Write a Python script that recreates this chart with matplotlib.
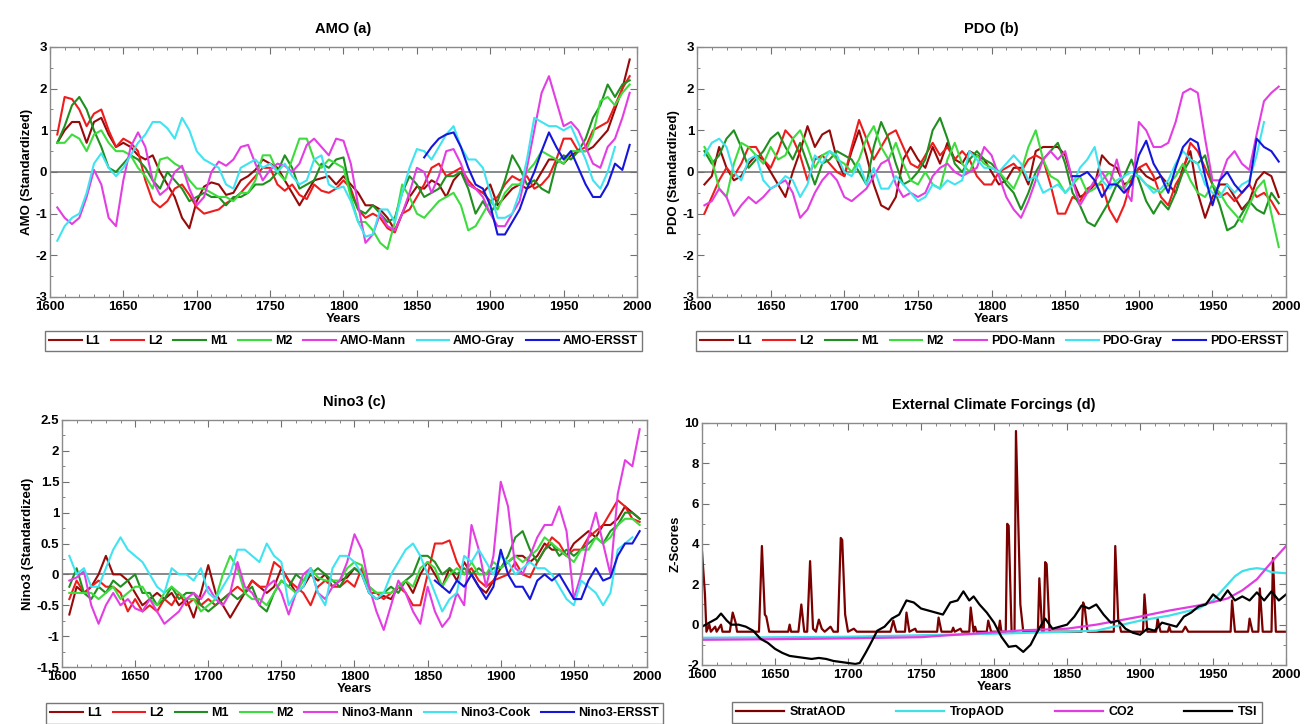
import matplotlib
matplotlib.use("Agg")
import matplotlib.pyplot as plt
from matplotlib.ticker import MultipleLocator, FormatStrFormatter
import numpy as np

plt.rcParams['font.family'] = ['Liberation Sans', 'DejaVu Sans']
plt.rcParams['font.weight'] = 'bold'
plt.rcParams['axes.unicode_minus'] = False

# 5-year grid used by the reconstructions
years = list(range(1605, 2000, 5))
years_gray = list(range(1605, 1990, 5))
years_cook = list(range(1605, 1995, 5))
years_ersst = list(range(1855, 2000, 5))

# ---- AMO (a)
amo_l1 = [0.7, 1.0, 1.2, 1.2, 0.7, 1.2, 1.3, 0.9, 0.6, 0.7,
          0.6, 0.4, 0.3, 0.4, 0.0, -0.3, -0.6, -1.1, -1.35, -0.7,
          -0.35, -0.25, -0.3, -0.55, -0.5, -0.2, -0.1, 0.05, 0.3, 0.2,
          0.1, -0.2, -0.5, -0.8, -0.5, -0.2, -0.15, -0.1, -0.3, -0.1,
          -0.3, -0.5, -0.8, -0.8, -0.9, -1.1, -1.4, -1.0, -0.6, -0.35,
          -0.4, -0.2, -0.3, -0.6, -0.2, 0.0, -0.3, -0.4, -0.5, -0.3,
          -0.8, -0.6, -0.4, -0.3, -0.4, -0.3, 0.0, 0.3, 0.3, 0.2,
          0.4, 0.5, 0.5, 0.6, 0.8, 1.0, 1.5, 2.0, 2.7]
amo_l2 = [0.9, 1.8, 1.75, 1.5, 1.1, 1.4, 1.5, 1.0, 0.6, 0.8,
          0.7, 0.5, -0.2, -0.7, -0.85, -0.7, -0.4, -0.3, -0.55, -0.85,
          -1.0, -0.95, -0.9, -0.75, -0.65, -0.5, -0.3, -0.1, 0.1, 0.1,
          -0.3, -0.45, -0.3, -0.55, -0.65, -0.3, -0.45, -0.5, -0.4, -0.2,
          -0.4, -0.9, -1.1, -1.0, -1.1, -1.35, -1.45, -1.0, -0.9, -0.6,
          -0.3, 0.1, 0.2, -0.1, 0.0, 0.1, -0.2, -0.4, -0.5, -0.7,
          -0.6, -0.3, -0.1, -0.2, -0.1, -0.4, -0.3, -0.1, 0.3, 0.8,
          0.8, 0.5, 0.6, 1.0, 1.1, 1.2, 1.6, 2.0, 2.3]
amo_m1 = [0.7, 1.1, 1.6, 1.8, 1.5, 1.0, 0.6, 0.1, 0.0, 0.2,
          0.4, 0.3, 0.1, -0.2, -0.4, 0.0, -0.2, -0.4, -0.7, -0.6,
          -0.5, -0.6, -0.6, -0.8, -0.6, -0.6, -0.5, -0.3, -0.3, -0.2,
          0.0, 0.4, 0.1, -0.4, -0.3, -0.2, 0.2, 0.1, 0.3, 0.35,
          -0.5, -0.9, -1.0, -0.8, -1.0, -1.2, -1.1, -0.5, -0.1, -0.3,
          -0.6, -0.5, -0.4, -0.1, -0.1, 0.0, -0.4, -1.0, -0.7, -1.0,
          -0.7, -0.2, 0.4, 0.1, -0.3, -0.2, -0.4, -0.5, 0.2, 0.4,
          0.3, 0.5, 0.8, 1.3, 1.6, 2.1, 1.8, 2.1, 2.2]
amo_m2 = [0.7, 0.7, 0.9, 0.8, 0.5, 0.9, 1.0, 0.7, 0.5, 0.5,
          0.4, 0.1, -0.1, -0.4, 0.3, 0.35, 0.2, 0.1, -0.2, -0.4,
          -0.4, -0.5, -0.6, -0.6, -0.7, -0.5, -0.5, -0.2, 0.4, 0.4,
          0.0, -0.2, 0.3, 0.8, 0.8, 0.3, 0.1, 0.3, 0.2, 0.1,
          -0.6, -1.2, -1.2, -1.4, -1.7, -1.85, -1.2, -0.3, -0.6, -1.0,
          -1.1, -0.9, -0.7, -0.6, -0.5, -0.8, -1.4, -1.3, -1.0, -0.7,
          -0.9, -0.5, -0.3, -0.3, 0.0, 0.2, 0.5, 0.4, 0.3, 0.2,
          0.5, 0.5, 0.5, 0.9, 1.7, 1.8, 1.6, 1.9, 2.1]
amo_mann = [-0.85, -1.1, -1.25, -1.1, -0.6, 0.05, -0.3, -1.1, -1.3, -0.2,
            0.6, 0.95, 0.6, -0.2, -0.55, -0.4, 0.0, 0.15, -0.4, -0.8,
            -0.6, 0.0, 0.25, 0.15, 0.3, 0.6, 0.65, 0.2, -0.2, 0.05,
            0.2, 0.15, 0.0, 0.2, 0.65, 0.8, 0.6, 0.4, 0.8, 0.75,
            0.2, -0.8, -1.7, -1.5, -1.0, -1.3, -1.4, -1.0, -0.5, 0.1,
            0.0, -0.5, -0.1, 0.5, 0.55, 0.2, -0.3, -0.4, -0.6, -1.0,
            -1.3, -1.3, -1.0, -0.7, 0.1, 1.0, 1.9, 2.3, 1.7, 1.1,
            1.2, 1.0, 0.6, 0.2, 0.1, 0.6, 0.8, 1.3, 1.9]
amo_gray = [-1.65, -1.3, -1.1, -1.0, -0.5, 0.2, 0.45, 0.1, -0.1, 0.1,
            0.4, 0.7, 0.9, 1.2, 1.2, 1.05, 0.8, 1.3, 1.0, 0.5,
            0.3, 0.2, 0.1, -0.3, -0.4, 0.1, 0.2, 0.3, 0.1, 0.2,
            0.0, 0.2, -0.1, -0.3, -0.2, 0.3, 0.4, -0.3, -0.4, -0.35,
            -0.7, -1.2, -1.55, -1.5, -0.9, -0.9, -1.2, -0.5, 0.1, 0.55,
            0.5, 0.3, 0.6, 0.9, 1.1, 0.6, 0.3, 0.3, 0.1, -0.5,
            -1.1, -1.1, -1.0, -0.5, 0.3, 1.3, 1.2, 1.1, 1.1, 1.0,
            1.1, 0.7, 0.3, -0.2, -0.4, 0.0, 0.6]
amo_ersst = [0.35, 0.6, 0.8, 0.9, 0.95, 0.6, 0.1, -0.3, -0.4, -0.8,
             -1.5, -1.5, -1.2, -0.9, -0.4, 0.0, 0.5, 0.95, 0.6, 0.3,
             0.5, 0.1, -0.3, -0.6, -0.6, -0.3, 0.2, 0.05, 0.65]

# ---- PDO (b)
pdo_l1 = [-0.3, -0.1, 0.6, 0.1, -0.2, -0.1, 0.2, 0.4, 0.3, 0.0,
          -0.3, -0.6, 0.0, 0.5, 1.1, 0.6, 0.9, 1.0, 0.3, -0.1,
          0.5, 1.0, 0.4, -0.3, -0.8, -0.9, -0.6, 0.3, 0.6, 0.3,
          0.1, 0.6, 0.2, 0.7, 0.3, 0.2, 0.5, 0.4, 0.3, 0.0,
          -0.3, -0.2, 0.1, 0.1, -0.3, 0.5, 0.6, 0.6, 0.6, 0.4,
          -0.2, -0.6, -0.5, -0.3, 0.4, 0.2, 0.1, -0.3, -0.2, 0.1,
          -0.1, -0.2, -0.1, -0.3, -0.5, 0.1, 0.5, -0.5, -1.1, -0.6,
          -0.3, -0.3, -0.6, -0.9, -0.7, -0.2, 0.0, -0.1, -0.6]
pdo_l2 = [-1.0, -0.6, -0.2, 0.1, -0.1, 0.2, 0.6, 0.6, 0.3, 0.1,
          0.5, 1.0, 0.8, 0.4, -0.2, 0.3, 0.4, 0.2, 0.0, -0.1,
          0.6, 1.25, 0.8, 0.3, 0.6, 0.9, 1.0, 0.6, 0.2, 0.1,
          0.4, 0.7, 0.4, 0.6, 0.3, 0.5, 0.3, -0.1, -0.3, -0.3,
          0.0, 0.1, 0.2, 0.0, 0.3, 0.4, 0.3, -0.3, -1.0, -1.0,
          -0.6, -0.7, -0.4, -0.3, -0.3, -0.9, -1.2, -0.8, -0.2, 0.1,
          0.2, -0.1, -0.6, -0.8, -0.3, 0.0, 0.7, 0.5, 0.1, -0.3,
          -0.6, -0.5, -0.7, -0.5, -0.3, -0.6, -0.5, -0.7, -1.0]
pdo_m1 = [0.5, 0.2, 0.4, 0.8, 1.0, 0.6, 0.1, 0.3, 0.5, 0.8,
          0.95, 0.6, 0.3, 0.7, 0.2, -0.3, 0.2, 0.3, 0.5, 0.4,
          0.3, 0.0, -0.3, 0.6, 1.2, 0.8, 0.2, -0.3, -0.2, 0.0,
          0.3, 1.0, 1.3, 0.8, 0.2, 0.0, 0.3, 0.5, 0.3, 0.2,
          0.0, -0.3, -0.5, -0.9, -0.5, 0.0, 0.3, 0.5, 0.7, 0.2,
          -0.5, -0.8, -1.2, -1.3, -1.0, -0.7, -0.3, -0.1, 0.3, -0.2,
          -0.7, -1.0, -0.7, -0.9, -0.5, 0.0, 0.3, 0.2, 0.4, -0.3,
          -0.8, -1.4, -1.3, -1.0, -0.7, -0.9, -1.0, -0.5, -0.75]
pdo_m2 = [0.6, 0.3, -0.4, -0.6, 0.2, 0.7, 0.6, 0.4, 0.2, 0.6,
          0.3, 0.4, 0.8, 1.0, 0.6, 0.1, 0.4, 0.5, 0.3, 0.2,
          0.0, 0.3, 0.8, 1.1, 0.6, 0.3, 0.7, 0.2, -0.2, -0.3,
          0.0, -0.3, -0.4, 0.3, 0.7, 0.2, 0.0, 0.4, 0.2, 0.1,
          0.0, -0.2, -0.4, 0.0, 0.6, 1.0, 0.3, -0.1, -0.2, -0.5,
          -0.3, -0.1, -0.5, -0.4, -0.2, 0.0, -0.3, -0.4, -0.1, -0.1,
          -0.3, -0.4, -0.5, -0.3, -0.1, 0.2, -0.2, -0.5, -0.6, -0.3,
          -0.5, -0.8, -1.0, -1.2, -0.8, -0.4, -0.2, -1.0, -1.8]
pdo_mann = [-0.8, -0.7, -0.4, -0.6, -1.05, -0.8, -0.6, -0.75, -0.6, -0.4,
            -0.3, -0.2, -0.5, -1.1, -0.9, -0.5, -0.2, 0.0, -0.2, -0.6,
            -0.7, -0.55, -0.4, -0.1, 0.2, 0.3, -0.3, -0.6, -0.5, -0.6,
            -0.5, -0.1, 0.1, 0.2, 0.0, -0.1, 0.0, 0.1, 0.6, 0.4,
            -0.1, -0.6, -0.9, -1.1, -0.7, -0.2, 0.3, 0.5, 0.3, 0.5,
            -0.2, -0.8, -0.5, -0.2, 0.0, -0.3, 0.3, -0.4, -0.7, 1.2,
            1.0, 0.6, 0.6, 0.7, 1.2, 1.9, 2.0, 1.9, 0.8, -0.2,
            -0.2, 0.3, 0.5, 0.2, 0.05, 0.9, 1.7, 1.9, 2.05]
pdo_gray = [0.4, 0.7, 0.8, 0.6, 0.0, -0.2, 0.3, 0.4, -0.2, -0.4,
            -0.3, -0.1, -0.2, -0.6, -0.3, 0.4, 0.2, 0.5, 0.4, 0.0,
            -0.1, 0.2, -0.3, 0.1, -0.4, -0.4, -0.1, -0.3, -0.5, -0.7,
            -0.6, -0.3, -0.4, -0.2, -0.3, -0.2, 0.5, 0.3, 0.1, 0.1,
            0.0, 0.2, 0.4, 0.2, -0.2, -0.1, -0.5, -0.4, -0.3, -0.5,
            -0.3, 0.1, 0.3, 0.6, -0.2, -0.4, -0.2, -0.1, 0.0, -0.1,
            -0.3, -0.5, -0.4, -0.2, 0.2, 0.5, 0.3, 0.2, -0.3, -0.5,
            -0.6, -0.3, -0.5, -0.3, -0.2, 0.4, 1.2]
pdo_ersst = [-0.1, -0.1, 0.0, -0.2, -0.6, -0.3, -0.3, -0.5, -0.3, 0.4,
             0.75, 0.2, -0.1, -0.5, 0.1, 0.6, 0.8, 0.7, -0.1, -0.8,
             -0.2, 0.0, -0.3, -0.5, -0.3, 0.8, 0.6, 0.5, 0.25]

# ---- Nino3 (c)
nino_l1 = [-0.65, -0.2, -0.3, -0.2, 0.0, 0.3, 0.0, 0.0, -0.1, -0.3,
           -0.5, -0.4, -0.3, -0.4, -0.3, -0.5, -0.4, -0.7, -0.3, 0.15,
           -0.3, -0.5, -0.7, -0.5, -0.3, -0.1, -0.2, -0.3, -0.2, 0.1,
           -0.1, -0.3, -0.2, 0.0, -0.1, 0.0, -0.2, -0.1, -0.05, 0.1,
           0.0, -0.3, -0.4, -0.35, -0.4, -0.2, -0.1, -0.3, 0.0, 0.2,
           0.0, -0.2, 0.1, -0.1, 0.2, 0.0, -0.2, -0.3, -0.1, 0.1,
           0.2, 0.3, 0.3, 0.2, 0.3, 0.5, 0.4, 0.4, 0.3, 0.5,
           0.6, 0.7, 0.6, 0.8, 0.8, 0.9, 1.1, 1.0, 0.9]
nino_l2 = [-0.4, -0.1, -0.3, -0.2, -0.1, -0.2, -0.2, -0.3, -0.6, -0.4,
           -0.6, -0.5, -0.6, -0.4, -0.5, -0.3, -0.5, -0.4, -0.5, -0.4,
           -0.5, -0.4, -0.3, -0.2, -0.3, -0.1, -0.2, -0.2, 0.2, 0.1,
           -0.1, -0.2, -0.3, -0.5, -0.2, -0.1, -0.2, -0.2, -0.1, -0.2,
           0.1, -0.3, -0.3, -0.4, -0.3, -0.2, -0.3, -0.5, -0.5, 0.0,
           0.5, 0.5, 0.55, 0.2, 0.0, 0.1, -0.1, -0.2, -0.1, -0.05,
           0.0, 0.2, 0.0, -0.05, 0.2, 0.4, 0.6, 0.5, 0.3, 0.4,
           0.4, 0.6, 0.7, 0.8, 1.0, 1.2, 1.1, 0.9, 0.85]
nino_m1 = [-0.2, 0.1, -0.3, -0.4, -0.2, -0.3, -0.1, -0.2, -0.1, 0.0,
           -0.3, -0.3, -0.5, -0.4, -0.2, -0.4, -0.3, -0.3, -0.5, -0.6,
           -0.5, -0.4, -0.3, -0.4, -0.3, -0.2, -0.5, -0.6, -0.3, -0.1,
           -0.2, 0.0, -0.1, 0.0, 0.1, 0.0, -0.1, -0.2, 0.0, 0.1,
           0.0, -0.2, -0.3, -0.3, -0.2, -0.3, -0.1, 0.0, 0.3, 0.3,
           0.2, 0.0, 0.1, 0.0, 0.1, 0.0, 0.1, 0.0, 0.1, 0.1,
           0.3, 0.6, 0.7, 0.4, 0.2, 0.4, 0.5, 0.3, 0.4, 0.3,
           0.4, 0.5, 0.6, 0.5, 0.7, 0.8, 1.0, 1.0, 0.9]
nino_m2 = [-0.3, -0.3, -0.3, -0.3, -0.4, -0.3, -0.2, -0.4, -0.3, -0.2,
           -0.2, -0.4, -0.5, -0.3, -0.2, -0.3, -0.4, -0.4, -0.6, -0.5,
           -0.4, 0.0, 0.3, 0.1, -0.3, -0.4, -0.4, -0.5, -0.3, -0.1,
           -0.2, -0.3, -0.1, 0.1, -0.05, -0.1, -0.1, -0.1, 0.1, 0.2,
           0.15, -0.2, -0.3, -0.3, -0.3, -0.2, -0.1, -0.2, 0.1, 0.2,
           0.1, -0.2, 0.0, 0.1, 0.0, 0.2, 0.0, 0.0, 0.2, 0.1,
           0.2, 0.3, 0.2, 0.3, 0.4, 0.6, 0.5, 0.4, 0.3, 0.2,
           0.4, 0.4, 0.6, 0.5, 0.6, 0.8, 0.9, 0.9, 0.8]
nino_mann = [-0.1, -0.05, 0.05, -0.5, -0.8, -0.5, -0.3, -0.5, -0.4, -0.55,
             -0.6, -0.4, -0.6, -0.8, -0.7, -0.6, -0.4, -0.3, -0.4, -0.2,
             -0.4, -0.5, -0.3, 0.2, -0.2, -0.3, -0.5, -0.2, -0.1, -0.3,
             -0.65, -0.3, 0.0, 0.1, -0.3, -0.4, -0.2, -0.1, 0.2, 0.65,
             0.4, -0.2, -0.6, -0.9, -0.5, -0.1, -0.3, -0.6, -0.8, -0.2,
             -0.6, -0.85, -0.7, -0.3, -0.5, 0.8, 0.4, -0.2, 0.3, 1.5,
             1.1, 0.1, 0.0, 0.3, 0.6, 0.8, 0.8, 1.1, 0.7, -0.4,
             0.0, 0.6, 1.0, 0.5, 0.0, 1.3, 1.85, 1.75, 2.35]
nino_cook = [0.3, 0.0, 0.1, -0.2, -0.2, 0.1, 0.4, 0.6, 0.4, 0.3,
             0.2, 0.0, -0.2, -0.3, 0.1, 0.0, 0.0, -0.1, 0.1, -0.3,
             -0.4, -0.2, 0.0, 0.4, 0.4, 0.3, 0.2, 0.5, 0.3, 0.2,
             -0.5, -0.3, -0.2, 0.1, -0.3, -0.5, 0.1, 0.3, 0.3, 0.2,
             0.0, -0.3, -0.4, -0.3, 0.0, 0.2, 0.4, 0.5, 0.3, 0.0,
             -0.3, -0.6, -0.4, -0.3, 0.3, 0.2, 0.4, 0.2, 0.0, 0.3,
             0.2, 0.0, 0.1, 0.2, 0.1, 0.1, 0.0, -0.2, -0.4, -0.5,
             -0.1, -0.2, -0.3, -0.5, -0.3, 0.4, 0.5, 0.6]
nino_ersst = [-0.1, -0.2, -0.3, -0.1, -0.2, 0.0, -0.2, -0.4, -0.2, 0.4,
              0.0, -0.2, -0.2, -0.4, -0.1, 0.0, -0.1, 0.0, -0.2, -0.4,
              -0.4, -0.1, 0.1, -0.1, -0.05, 0.3, 0.5, 0.5, 0.7]

# ---- External forcings (d)
strat_years = [1600, 1602, 1603, 1605, 1606, 1609, 1610, 1613, 1614, 1619, 1621, 1623, 1624,
               1639, 1641, 1643, 1644, 1646, 1659, 1660, 1661, 1666, 1668, 1670, 1672, 1674,
               1676, 1678, 1680, 1682, 1684, 1688, 1690, 1693, 1695, 1696, 1698, 1700, 1704,
               1706, 1729, 1731, 1733, 1739, 1740, 1742, 1746, 1747, 1761, 1762, 1764, 1771,
               1772, 1773, 1777, 1778, 1783, 1784, 1786, 1787, 1788, 1795, 1796, 1798, 1803,
               1804, 1805, 1808, 1809, 1810, 1812, 1814, 1815, 1818, 1820, 1830, 1831, 1833,
               1834, 1835, 1836, 1838, 1860, 1861, 1862, 1864, 1882, 1883, 1885, 1887, 1902,
               1903, 1905, 1911, 1912, 1914, 1919, 1920, 1921, 1929, 1931, 1933, 1962, 1963,
               1965, 1974, 1975, 1977, 1981, 1982, 1984, 1990, 1991, 1993, 2000]
strat_aod = [3.6, 1.5, -0.35, 0.0, -0.35, -0.1, -0.35, 0.0, -0.35, -0.35, 0.6, 0.1, -0.35,
             -0.35, 3.9, 0.5, 0.4, -0.35, -0.35, 0.0, -0.35, -0.35, 1.0, -0.35, -0.35, 3.15,
             -0.2, -0.35, 0.25, -0.2, -0.35, -0.1, -0.35, -0.35, 4.3, 4.2, 0.5, -0.35, -0.2,
             -0.35, -0.35, 0.2, -0.35, -0.35, 0.6, -0.35, -0.2, -0.35, -0.35, 0.35, -0.35, -0.35,
             -0.15, -0.35, -0.2, -0.35, -0.35, 0.85, -0.35, -0.1, -0.35, -0.35, 0.2, -0.35, -0.35,
             0.2, -0.35, -0.35, 5.0, 4.9, -0.35, -0.35, 9.6, 1.0, -0.35, -0.35, 2.3, -0.35,
             -0.35, 3.1, 3.0, -0.35, -0.35, 1.1, 0.9, -0.35, -0.35, 3.9, 0.3, -0.35, -0.35,
             1.5, -0.35, -0.35, 0.3, -0.35, -0.35, -0.1, -0.35, -0.35, -0.1, -0.35, -0.35, 1.2,
             -0.35, -0.35, 0.3, -0.35, -0.35, 1.8, -0.35, -0.35, 3.3, -0.35, -0.35]
ghg_years = [1600, 1650, 1700, 1750, 1770, 1800, 1820, 1850, 1870, 1900, 1920, 1940,
             1950, 1960, 1970, 1980, 1990, 2000]
co2 = [-0.75, -0.72, -0.68, -0.62, -0.52, -0.38, -0.28, -0.2, 0.0, 0.4, 0.7, 0.95,
       1.12, 1.3, 1.7, 2.25, 3.1, 3.9]
trop_years = [1600, 1700, 1800, 1850, 1870, 1900, 1920, 1940, 1950, 1955, 1960, 1965,
              1970, 1975, 1980, 1985, 1990, 2000]
trop_aod = [-0.65, -0.6, -0.45, -0.35, -0.3, 0.2, 0.45, 0.8, 1.2, 1.6, 2.0, 2.4,
            2.65, 2.75, 2.8, 2.75, 2.6, 2.55]
tsi_years = [1600, 1605, 1610, 1613, 1617, 1620, 1625, 1630, 1635, 1640, 1645, 1650, 1655,
             1660, 1665, 1670, 1675, 1680, 1685, 1690, 1695, 1700, 1705, 1708, 1712, 1715,
             1720, 1725, 1730, 1735, 1740, 1745, 1750, 1755, 1760, 1765, 1770, 1775, 1779,
             1783, 1786, 1790, 1795, 1800, 1805, 1810, 1815, 1820, 1825, 1830, 1835, 1840,
             1845, 1850, 1855, 1860, 1865, 1870, 1875, 1880, 1885, 1890, 1895, 1900, 1905,
             1910, 1915, 1920, 1925, 1930, 1935, 1940, 1945, 1950, 1955, 1960, 1965, 1970,
             1975, 1980, 1985, 1990, 1995, 2000]
tsi = [-0.1, 0.1, 0.3, 0.55, 0.2, 0.0, 0.0, -0.1, -0.3, -0.7, -0.9, -1.2, -1.4,
       -1.55, -1.6, -1.65, -1.7, -1.65, -1.7, -1.8, -1.85, -1.9, -1.95, -1.9, -1.4, -1.0,
       -0.3, -0.1, 0.3, 0.5, 1.2, 1.1, 0.8, 0.7, 0.6, 0.5, 1.1, 1.2, 1.65,
       1.2, 1.4, 1.0, 0.6, 0.1, -0.6, -1.1, -1.05, -1.35, -1.0, -0.3, 0.3, -0.2,
       -0.1, 0.0, 0.4, 0.95, 0.8, 1.0, 0.5, 0.1, 0.2, -0.2, -0.4, -0.5, -0.2,
       -0.3, 0.1, 0.0, -0.1, 0.4, 0.6, 0.9, 1.0, 1.5, 1.2, 1.7, 1.2, 1.4,
       1.2, 1.6, 1.2, 1.65, 1.2, 1.5]

C_L1 = '#960a0a'
C_L2 = '#ee1c1c'
C_M1 = '#1f8f1f'
C_M2 = '#3ddc3d'
C_MANN = '#e23ee2'
C_GRAY = '#3fe4f0'
C_ERSST = '#1515dc'

fig = plt.figure(figsize=(13.11, 7.24), dpi=100)


def style_axes(ax, ylim, ymajor, yminor, ylabel, title):
    ax.set_xlim(1600, 2000)
    ax.set_ylim(*ylim)
    ax.xaxis.set_major_locator(MultipleLocator(50))
    ax.xaxis.set_minor_locator(MultipleLocator(10))
    ax.yaxis.set_major_locator(MultipleLocator(ymajor))
    ax.yaxis.set_minor_locator(MultipleLocator(yminor))
    ax.yaxis.set_major_formatter(FormatStrFormatter('%g'))
    ax.tick_params(which='both', direction='in', top=True, right=True,
                   color='#707070', labelsize=9.5)
    ax.tick_params(axis='x', pad=3)
    ax.tick_params(axis='y', pad=2)
    ax.tick_params(which='major', length=5)
    ax.tick_params(which='minor', length=2.5)
    for lab in ax.get_xticklabels() + ax.get_yticklabels():
        lab.set_fontweight('bold')
    for sp in ax.spines.values():
        sp.set_color('#8a8a8a')
        sp.set_linewidth(1.0)
    ax.set_xlabel('Years', fontsize=9.5, fontweight='bold', labelpad=0)
    ax.set_ylabel(ylabel, fontsize=9.5, fontweight='bold', labelpad=2)
    ax.set_title(title, fontsize=10.5, fontweight='bold', pad=10)


def index_panel(rect, series, ylim, ymajor, yminor, ylabel, title, leg_y):
    ax = fig.add_axes(rect)
    ax.axhline(0, color='#6a6a6a', lw=1.1, zorder=1)
    for x, y, c, lab in series:
        ax.plot(x, y, color=c, lw=1.5, label=lab, zorder=2)
    style_axes(ax, ylim, ymajor, yminor, ylabel, title)
    ax.legend(loc='upper center', bbox_to_anchor=(0.5, leg_y), ncol=7,
              frameon=True, fancybox=False, edgecolor='#555555',
              handlelength=2.6, handletextpad=0.3, columnspacing=0.9,
              borderpad=0.35, borderaxespad=0, prop={'weight': 'bold', 'size': 9})
    return ax


index_panel([0.0381, 0.5898, 0.4478, 0.3453],
            [(years, amo_l1, C_L1, 'L1'), (years, amo_l2, C_L2, 'L2'),
             (years, amo_m1, C_M1, 'M1'), (years, amo_m2, C_M2, 'M2'),
             (years, amo_mann, C_MANN, 'AMO-Mann'), (years_gray, amo_gray, C_GRAY, 'AMO-Gray'),
             (years_ersst, amo_ersst, C_ERSST, 'AMO-ERSST')],
            (-3, 3), 1, 0.5, 'AMO (Standardized)', 'AMO (a)', -0.135)

index_panel([0.5317, 0.5898, 0.4493, 0.3453],
            [(years, pdo_l1, C_L1, 'L1'), (years, pdo_l2, C_L2, 'L2'),
             (years, pdo_m1, C_M1, 'M1'), (years, pdo_m2, C_M2, 'M2'),
             (years, pdo_mann, C_MANN, 'PDO-Mann'), (years_gray, pdo_gray, C_GRAY, 'PDO-Gray'),
             (years_ersst, pdo_ersst, C_ERSST, 'PDO-ERSST')],
            (-3, 3), 1, 0.5, 'PDO (Standardized)', 'PDO (b)', -0.135)

index_panel([0.0473, 0.0787, 0.4462, 0.3412],
            [(years, nino_l1, C_L1, 'L1'), (years, nino_l2, C_L2, 'L2'),
             (years, nino_m1, C_M1, 'M1'), (years, nino_m2, C_M2, 'M2'),
             (years, nino_mann, C_MANN, 'Nino3-Mann'), (years_cook, nino_cook, C_GRAY, 'Nino3-Cook'),
             (years_ersst, nino_ersst, C_ERSST, 'Nino3-ERSST')],
            (-1.5, 2.5), 0.5, 0.25, 'Nino3 (Standardized)', 'Nino3 (c)', -0.145)

# forcings panel
axd = fig.add_axes([0.5355, 0.0815, 0.4455, 0.3343])
axd.plot(strat_years, strat_aod, color='#7a0000', lw=1.6, label='StratAOD')
axd.plot(trop_years, trop_aod, color='#3fe0e6', lw=1.6, label='TropAOD')
axd.plot(ghg_years, co2, color='#e03ce0', lw=1.6, label='CO2')
axd.plot(tsi_years, tsi, color='black', lw=1.6, label='TSI')
style_axes(axd, (-2, 10), 2, 1, 'Z-Scores', 'External Climate Forcings (d)')
axd.legend(loc='upper center', bbox_to_anchor=(0.505, -0.152), ncol=4,
           frameon=True, fancybox=False, edgecolor='#555555',
           handlelength=3.8, handletextpad=0.5, columnspacing=4.0,
           borderpad=0.35, borderaxespad=0, prop={'weight': 'bold', 'size': 9})

plt.savefig('out.png', dpi=100)
